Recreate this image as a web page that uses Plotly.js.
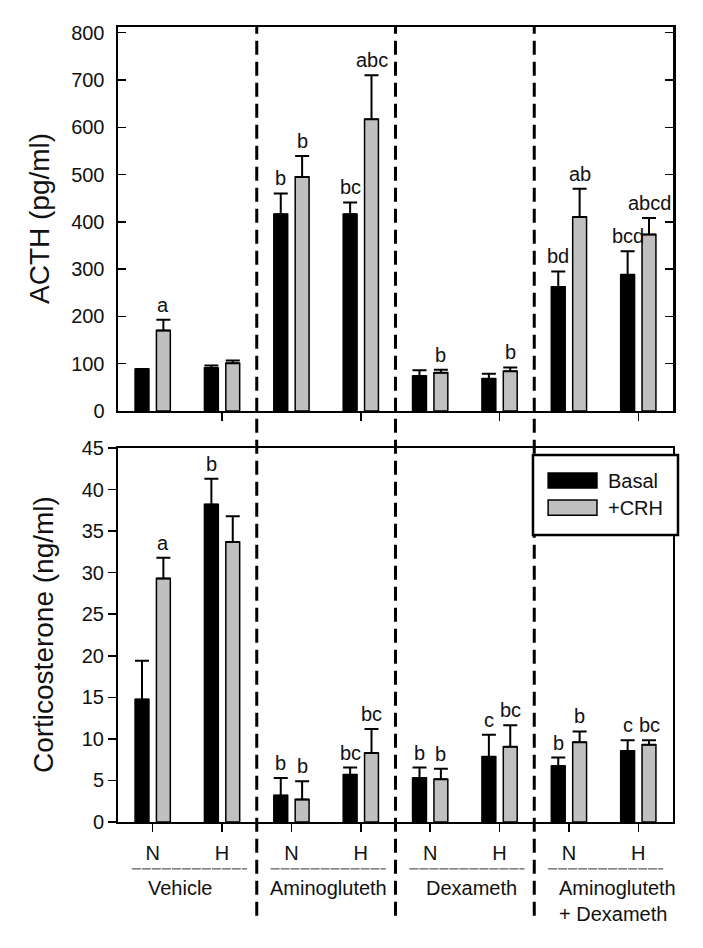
<!DOCTYPE html>
<html>
<head>
<meta charset="utf-8">
<script src="https://cdn.plot.ly/plotly-3.0.1.min.js"></script>
<style>
  body { margin: 0; background: #fff; }
  #graph { width: 703px; height: 948px; }
</style>
</head>
<body>
<div id="graph"></div>
<script>
// groups and conditions on the x axis
const groups = ['Vehicle', 'Aminogluteth', 'Dexameth', 'Aminogluteth<br>+ Dexameth'];
const conditions = ['N', 'H'];
const categories = ['Vehicle N', 'Vehicle H', 'Amino N', 'Amino H', 'Dexa N', 'Dexa H', 'AD N', 'AD H'];
const tickLabels = ['N', 'H', 'N', 'H', 'N', 'H', 'N', 'H'];

// ACTH (pg/ml)
const acthBasal = [88, 91, 416, 416, 74, 68, 262, 288];
const acthBasalErr = [1, 5, 44, 25, 12, 11, 33, 50];
const acthCrh = [170, 101, 495, 617, 81, 84, 410, 373];
const acthCrhErr = [23, 6, 44, 93, 6, 8, 60, 35];
const acthBasalLetters = ['', '', 'b', 'bc', '', '', 'bd', 'bcd'];
const acthCrhLetters = ['a', '', 'b', 'abc', 'b', 'b', 'ab', 'abcd'];

// Corticosterone (ng/ml)
const corticoBasal = [14.75, 38.2, 3.2, 5.7, 5.3, 7.85, 6.75, 8.55];
const corticoBasalErr = [4.65, 3.1, 2.1, 0.85, 1.25, 2.65, 1.0, 1.3];
const corticoCrh = [29.3, 33.7, 2.7, 8.3, 5.15, 9.05, 9.6, 9.3];
const corticoCrhErr = [2.5, 3.1, 2.2, 2.9, 1.25, 2.6, 1.3, 0.55];
const corticoBasalLetters = ['', 'b', 'b', 'bc', 'b', 'c', 'b', 'c'];
const corticoCrhLetters = ['a', '', 'b', 'bc', 'b', 'bc', 'b', 'bc'];

const seriesNames = ['Basal', '+CRH'];

const FONT = "Arial, 'Liberation Sans', sans-serif";
const INK = '#111';
const GRAY = '#c0c0c0';
const OFF = 0.154; // half the distance between the two bars of a pair

function barTrace(name, y, err, color, xa, ya) {
    return {
        type: 'bar',
        name: name,
        x: categories,
        y: y,
        xaxis: xa,
        yaxis: ya,
        showlegend: false,
        marker: { color: color, line: { color: '#000', width: 1.5 } },
        error_y: {
            type: 'data', symmetric: false,
            array: err, arrayminus: err.map(() => 0),
            color: '#000', thickness: 2, width: 7
        }
    };
}

const traces = [
    barTrace(seriesNames[0], acthBasal, acthBasalErr, '#000', 'x', 'y'),
    barTrace(seriesNames[1], acthCrh, acthCrhErr, GRAY, 'x', 'y'),
    barTrace(seriesNames[0], corticoBasal, corticoBasalErr, '#000', 'x2', 'y2'),
    barTrace(seriesNames[1], corticoCrh, corticoCrhErr, GRAY, 'x2', 'y2')
];

// significance letters above the error bars
const annotations = [];
function addLetters(letters, vals, errs, shift, xa, ya) {
    letters.forEach((t, i) => {
        if (!t) return;
        annotations.push({
            x: i + shift, y: vals[i] + errs[i], xref: xa, yref: ya,
            text: t, showarrow: false, yanchor: 'bottom', yshift: 2,
            font: { family: FONT, size: 20, color: INK }
        });
    });
}
addLetters(acthBasalLetters, acthBasal, acthBasalErr, -OFF, 'x', 'y');
addLetters(acthCrhLetters, acthCrh, acthCrhErr, OFF, 'x', 'y');
addLetters(corticoBasalLetters, corticoBasal, corticoBasalErr, -OFF, 'x2', 'y2');
addLetters(corticoCrhLetters, corticoCrh, corticoCrhErr, OFF, 'x2', 'y2');

// group names under the axis
const groupShift = [-0.1, 0.03, 0.1, 0.2];
groups.forEach((g, k) => {
    annotations.push({
        x: 2 * k + 0.5 + groupShift[k], y: -0.067, xref: 'x2', yref: 'paper',
        text: g, showarrow: false, yanchor: 'top', align: 'left',
        font: { family: FONT, size: 20, color: INK }
    });
});

// y titles
annotations.push({
    x: -0.1405, y: 0.7585, xref: 'paper', yref: 'paper', text: 'ACTH (pg/ml)',
    xanchor: 'center', yanchor: 'middle',
    textangle: -90, showarrow: false, font: { family: FONT, size: 28, color: INK }
});
annotations.push({
    x: -0.135, y: 0.2352, xref: 'paper', yref: 'paper', text: 'Corticosterone (ng/ml)',
    xanchor: 'center', yanchor: 'middle',
    textangle: -90, showarrow: false, font: { family: FONT, size: 28, color: INK }
});

// legend text
annotations.push({
    x: 0.88, y: 0.429, xref: 'paper', yref: 'paper', text: seriesNames[0],
    xanchor: 'left', yanchor: 'middle', showarrow: false, font: { family: FONT, size: 20, color: INK }
});
annotations.push({
    x: 0.88, y: 0.395, xref: 'paper', yref: 'paper', text: seriesNames[1],
    xanchor: 'left', yanchor: 'middle', showarrow: false, font: { family: FONT, size: 20, color: INK }
});

const shapes = [];
// dashed separators between treatments, across both panels
[1.5, 3.5, 5.5].forEach(xv => {
    shapes.push({
        type: 'line', xref: 'x', yref: 'paper', x0: xv, x1: xv, y0: -0.118, y1: 1.0,
        line: { color: '#000', width: 3, dash: '14px,7px' }
    });
});
// dashed underline below each N/H pair
groups.forEach((g, k) => {
    shapes.push({
        type: 'line', xref: 'x2', yref: 'paper', x0: 2 * k + 0.5 - 0.8, x1: 2 * k + 0.5 + 0.86,
        y0: -0.059, y1: -0.059, line: { color: '#333', width: 1, dash: '9px,1px' }
    });
});
// legend box and swatches
shapes.push({
    type: 'rect', xref: 'paper', yref: 'paper', x0: 0.7477, x1: 1.009, y0: 0.361, y1: 0.4616,
    fillcolor: '#fff', line: { color: '#000', width: 2.5 }, layer: 'above'
});
shapes.push({
    type: 'rect', xref: 'paper', yref: 'paper', x0: 0.775, x1: 0.863, y0: 0.420, y1: 0.439,
    fillcolor: '#000', line: { color: '#000', width: 1.5 }, layer: 'above'
});
shapes.push({
    type: 'rect', xref: 'paper', yref: 'paper', x0: 0.775, x1: 0.863, y0: 0.386, y1: 0.405,
    fillcolor: GRAY, line: { color: '#000', width: 1.5 }, layer: 'above'
});

const tickFont = { family: FONT, size: 20, color: INK };

const layout = {
    width: 703,
    height: 948,
    margin: { l: 118, r: 30, t: 27, b: 126 },
    paper_bgcolor: '#fff',
    plot_bgcolor: '#fff',
    barmode: 'group',
    bargap: 0.384,
    bargroupgap: 0.35,
    showlegend: false,
    xaxis: {
        domain: [0, 1], anchor: 'y', type: 'category', range: [-0.5, 7.5],
        tickvals: categories.filter((c, i) => i % 2 === 1),
        showticklabels: false, ticks: 'outside', ticklen: 8, tickwidth: 1.5, tickcolor: '#000',
        showline: true, linecolor: '#000', linewidth: 2.5, mirror: true,
        showgrid: false, zeroline: false
    },
    yaxis: {
        domain: [0.517, 1], anchor: 'x', range: [0, 812], dtick: 100, tick0: 0,
        ticks: 'inside', ticklen: 8, tickwidth: 1.5, tickcolor: '#000',
        ticklabelstandoff: 7, tickfont: tickFont,
        showline: true, linecolor: '#000', linewidth: 2.5, mirror: 'ticks',
        showgrid: false, zeroline: false
    },
    xaxis2: {
        domain: [0, 1], anchor: 'y2', type: 'category', range: [-0.5, 7.5],
        tickvals: categories, ticktext: tickLabels,
        ticks: 'outside', ticklen: 8, tickwidth: 1.5, tickcolor: '#000',
        ticklabelstandoff: 4, tickfont: tickFont,
        showline: true, linecolor: '#000', linewidth: 2, mirror: true,
        showgrid: false, zeroline: false
    },
    yaxis2: {
        domain: [0, 0.4704], anchor: 'x2', range: [0, 45], dtick: 5, tick0: 0,
        ticks: 'outside', ticklen: 8, tickwidth: 1.5, tickcolor: '#000',
        tickfont: tickFont,
        showline: true, linecolor: '#000', linewidth: 2, mirror: true,
        showgrid: false, zeroline: false
    },
    annotations: annotations,
    shapes: shapes
};

Plotly.newPlot('graph', traces, layout, { displayModeBar: false, staticPlot: true });
</script>
</body>
</html>
